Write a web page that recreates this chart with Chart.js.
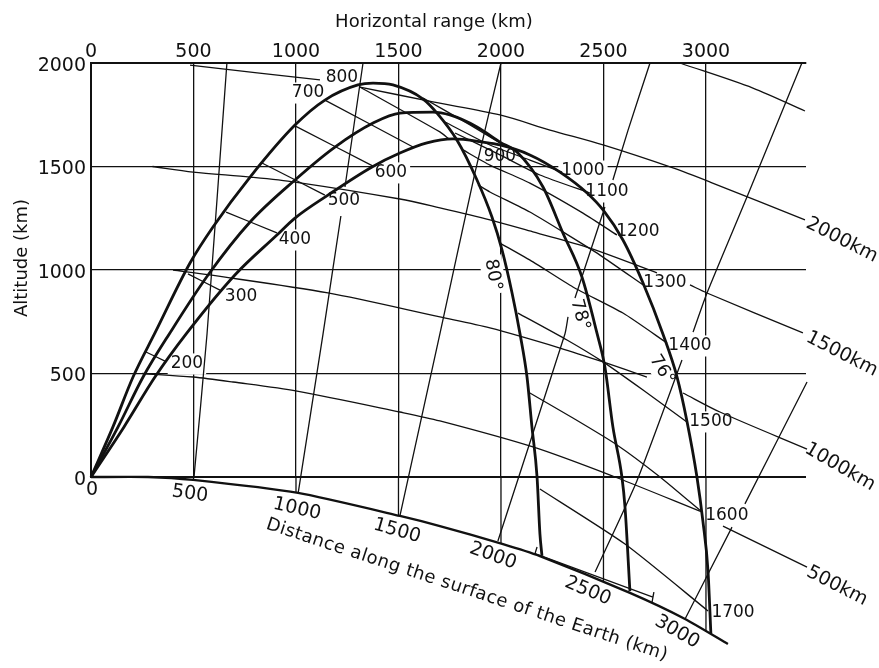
<!DOCTYPE html>
<html>
<head>
<meta charset="utf-8">
<title>Horizontal range and altitude</title>
<script src="https://cdn.jsdelivr.net/npm/chart.js@4"></script>
<style>
  html, body { margin: 0; padding: 0; background: #fff; }
  canvas { display: block; }
</style>
</head>
<body>
<canvas id="chart" width="879" height="668"></canvas>
<script>
// All values in km: [horizontal range, altitude]. Altitude goes negative below the chord.
const rangeTicks = [0, 500, 1000, 1500, 2000, 2500, 3000];
const altitudeTicks = [0, 500, 1000, 1500, 2000];
const surfaceAtTick = [0, -14, -77, -188, -324, -507, -749];

// trajectories
const curve80 = [[0,0],[107,242],[205,483],[312,696],[483,1034],[595,1208],[776,1449],[995,1700],[1141,1821],[1302,1894],[1376,1903],[1473,1894],[1620,1826],[1688,1758],[1785,1628],[1883,1435],[1956,1256],[2005,1097],[2054,889],[2093,691],[2127,483],[2151,242],[2176,0],[2190,-275],[2200,-381]];
const curve78 = [[0,0],[132,242],[254,483],[385,696],[571,976],[776,1232],[995,1435],[1190,1594],[1376,1710],[1507,1758],[1668,1763],[1751,1749],[1883,1691],[1995,1618],[2078,1570],[2205,1401],[2302,1179],[2395,966],[2468,696],[2507,531],[2546,242],[2590,0],[2605,-145],[2629,-551]];
const curve76 = [[0,0],[161,242],[312,483],[468,696],[702,976],[907,1169],[995,1251],[1156,1362],[1371,1498],[1507,1565],[1639,1614],[1766,1633],[1912,1618],[1995,1604],[2141,1556],[2288,1473],[2420,1372],[2498,1290],[2595,1145],[2693,937],[2790,691],[2859,483],[2907,271],[2956,0],[2985,-213],[3010,-454],[3024,-758]];

// equal-time lines, 200 to 1700
const time200 = [[268,604],[361,560]];
const time300 = [[473,981],[629,903]];
const time400 = [[659,1280],[907,1179]];
const time500 = [[834,1517],[1141,1362]];
const time600 = [[995,1696],[1376,1502]];
const time700 = [[1141,1821],[1571,1594]];
const time800 = [[1312,1884],[1702,1667],[1746,1633]];
const time900 = [[1620,1831],[1849,1701],[1995,1614]];
const time1000 = [[1727,1715],[1946,1604],[2141,1531],[2298,1473]];
const time1100 = [[1776,1662],[1995,1556],[2190,1459],[2434,1372]];
const time1200 = [[1815,1580],[1946,1507],[2141,1420],[2400,1275],[2566,1169]];
const time1300 = [[1888,1411],[1946,1377],[2141,1280],[2302,1184],[2483,1072],[2693,928]];
const time1400 = [[1995,1130],[2156,1039],[2351,918],[2595,792],[2810,647]];
const time1500 = [[2083,792],[2322,662],[2498,556],[2693,420],[2907,266]];
const time1600 = [[2141,406],[2351,285],[2566,155],[2776,0],[2980,-169]];
const time1700 = [[2190,-58],[2605,-324],[3010,-647]];

// altitude above the surface, null altitude leaves a gap for a label
const height500 = [[250,500],[498,483],[693,459],[1005,415],[1507,314],[1702,271],[2156,145],[2556,0],[2980,-169],[3030,null],[3083,-237],[3493,-435]];
const height1000 = [[400,1000],[580,976],[1156,889],[1702,773],[1946,720],[2288,623],[2498,556],[2712,483],[2800,null],[2888,406],[3068,314],[3493,135]];
const height1500 = [[300,1500],[498,1473],[776,1449],[995,1425],[1507,1343],[1702,1300],[1946,1242],[2156,1184],[2434,1106],[2761,986],[2840,null],[2922,928],[3005,889],[3473,696]];
const height2000 = [[483,1990],[1117,1918],[1200,null],[1312,1884],[1668,1812],[1995,1749],[2239,1676],[2498,1604],[2839,1493],[3020,1425],[3483,1242]];
const height2500 = [[2873,2000],[3229,1879],[3483,1768]];

// distance along the surface, going up from the ground
const radial500 = [[502,-5],[566,691],[663,2000]];
const radial1000 = [[1010,-82],[1132,691],[1219,1261],[1230,null],[1239,1401],[1327,2000]];
const radial1500 = [[1507,-188],[1702,691],[1873,1469],[2000,2000]];
const radial2000 = [[1985,-309],[2312,691],[2327,773],[2345,null],[2361,865],[2507,1304],[2525,null],[2546,1435],[2620,1676],[2727,2000]];
const radial2500 = [[2459,-459],[2663,-19],[2883,565],[2910,null],[2937,700],[3005,889],[3200,1353],[3468,2000]];
const radial3000 = [[2898,-686],[3127,-242],[3160,null],[3190,-130],[3493,459]];

const surface = [[0,0],[278,0],[498,-14],[1010,-77],[1507,-188],[1702,-237],[2010,-324],[2190,-382],[2629,-560],[2898,-686],[3107,-807]];
const bracket = [[2176,-338],[2166,-370],[2741,-580],[2746,-556],[2737,-604]];

const thickCurves = [curve80, curve78, curve76];
const timeLines = [time200, time300, time400, time500, time600, time700, time800, time900, time1000, time1100, time1200, time1300, time1400, time1500, time1600, time1700];
const heightLines = [height500, height1000, height1500, height2000, height2500];
const radialLines = [radial500, radial1000, radial1500, radial2000, radial2500, radial3000];

// labels, anchored at data values
const timeLabels = ['200','300','400','500','600','700','800','900','1000','1100','1200','1300','1400','1500','1600','1700'];
const timeLabelX = [468,732,995,1234,1463,1059,1224,1995,2400,2517,2668,2800,2922,3024,3102,3132];
const timeLabelY = [546,874,1145,1333,1469,1855,1928,1546,1478,1377,1184,937,633,266,-188,-657];

const angleLabels = ['80°','78°','76°'];
const angleLabelX = [1961,2385,2785];
const angleLabelY = [976,783,517];
const angleLabelTilt = [80,75,58];

const heightLabels = ['2000km','1500km','1000km','500km'];
const heightLabelX = [3663,3663,3654,3639];
const heightLabelY = [1145,594,48,-527];
const heightLabelTilt = [27,27,30,27];

const surfaceLabels = ['0','500','1000','1500','2000','2500','3000'];
const surfaceLabelX = [5,483,1005,1493,1961,2424,2859];
const surfaceLabelY = [-63,-82,-155,-261,-382,-551,-749];
const surfaceLabelTilt = [0,8,13,16,20,23,30];

const axisTitles = ['Horizontal range (km)','Altitude (km)','Distance along the surface of the Earth (km)'];
const axisTitleX = [1673,-337,1834];
const axisTitleY = [2198,1058,-546];
const axisTitleTilt = [0,-90,18.2];

const INK = '#111';
const FONT = '"DejaVu Sans", sans-serif';

function lineDataset(pairs, width, tension) {
  return {
    data: pairs.map(p => ({ x: p[0], y: p[1] })),
    borderColor: INK,
    borderWidth: width,
    pointRadius: 0,
    tension: tension,
    clip: false
  };
}

function trajectoryDataset(pairs) {
  const ds = lineDataset(pairs, 2.8, 0);
  ds.cubicInterpolationMode = 'monotone';
  return ds;
}

// gridlines stop at the chord, the bit down to the surface is drawn as a line
const drops = rangeTicks.map((t, i) => lineDataset([[t, 0], [t, surfaceAtTick[i]]], 1.3, 0));

const datasets = [
  ...drops,
  ...radialLines.map(l => lineDataset(l, 1.3, 0.2)),
  ...heightLines.map(l => lineDataset(l, 1.3, 0.3)),
  ...timeLines.map(l => lineDataset(l, 1.3, 0.2)),
  lineDataset(bracket, 1.3, 0),
  lineDataset(surface, 2.4, 0.2),
  ...thickCurves.map(trajectoryDataset)
];

function collectNotes() {
  const notes = [];
  timeLabels.forEach((t, i) => notes.push({ t, x: timeLabelX[i], y: timeLabelY[i], a: 0, size: 17, halo: t !== '900' }));
  angleLabels.forEach((t, i) => notes.push({ t, x: angleLabelX[i], y: angleLabelY[i], a: angleLabelTilt[i], size: 18, halo: true }));
  heightLabels.forEach((t, i) => notes.push({ t, x: heightLabelX[i], y: heightLabelY[i], a: heightLabelTilt[i], size: 19, halo: false }));
  surfaceLabels.forEach((t, i) => notes.push({ t, x: surfaceLabelX[i], y: surfaceLabelY[i], a: surfaceLabelTilt[i], size: 19, halo: false }));
  axisTitles.forEach((t, i) => notes.push({ t, x: axisTitleX[i], y: axisTitleY[i], a: axisTitleTilt[i], size: 18, halo: false, spacing: i === 2 ? '0.45px' : '0px' }));
  return notes;
}

const notesPlugin = {
  id: 'notes',
  // halos only knock out the gridlines, the curves go on top
  beforeDatasetsDraw(chart) {
    const { ctx, scales } = chart;
    collectNotes().filter(n => n.halo).forEach(n => {
      ctx.save();
      ctx.translate(scales.x.getPixelForValue(n.x), scales.y.getPixelForValue(n.y));
      ctx.rotate(n.a * Math.PI / 180);
      ctx.font = `${n.size}px ${FONT}`;
      const w = ctx.measureText(n.t).width + 6;
      ctx.fillStyle = '#fff';
      ctx.fillRect(-w / 2, -n.size * 0.62, w, n.size * 1.24);
      ctx.restore();
    });
  },
  afterDatasetsDraw(chart) {
    const { ctx, scales } = chart;
    collectNotes().forEach(n => {
      ctx.save();
      ctx.translate(scales.x.getPixelForValue(n.x), scales.y.getPixelForValue(n.y));
      ctx.rotate(n.a * Math.PI / 180);
      ctx.font = `${n.size}px ${FONT}`;
      ctx.letterSpacing = n.spacing || '0px';
      ctx.fillStyle = INK;
      ctx.textAlign = 'center';
      ctx.textBaseline = 'middle';
      ctx.fillText(n.t, 0, 0);
      ctx.restore();
    });
  }
};

new Chart(document.getElementById('chart'), {
  type: 'line',
  data: { datasets },
  plugins: [notesPlugin],
  options: {
    responsive: false,
    animation: false,
    events: [],
    layout: { padding: { top: 0, left: 0, right: 73, bottom: 191 } },
    plugins: { legend: { display: false }, tooltip: { enabled: false }, title: { display: false } },
    scales: {
      x: {
        type: 'linear',
        position: 'top',
        min: 0,
        max: 3488,
        afterBuildTicks: s => { s.ticks = rangeTicks.map(value => ({ value })); },
        afterFit: s => { s.height = 63; },
        border: { color: INK, width: 2 },
        grid: { color: INK, lineWidth: 1.3, drawTicks: false },
        ticks: { color: INK, font: { family: 'DejaVu Sans', size: 19 }, padding: 0, maxRotation: 0, autoSkip: false, callback: v => String(v) }
      },
      y: {
        type: 'linear',
        position: 'left',
        min: 0,
        max: 2000,
        afterBuildTicks: s => { s.ticks = altitudeTicks.map(value => ({ value })); },
        afterFit: s => { s.width = 91; },
        border: { color: INK, width: 2 },
        grid: { color: INK, lineWidth: c => (c.tick && c.tick.value === 0 ? 2 : 1.3), drawTicks: false },
        ticks: { color: INK, font: { family: 'DejaVu Sans', size: 19 }, padding: 5, labelOffset: 3, autoSkip: false, callback: v => String(v) }
      }
    }
  }
});
</script>
</body>
</html>
